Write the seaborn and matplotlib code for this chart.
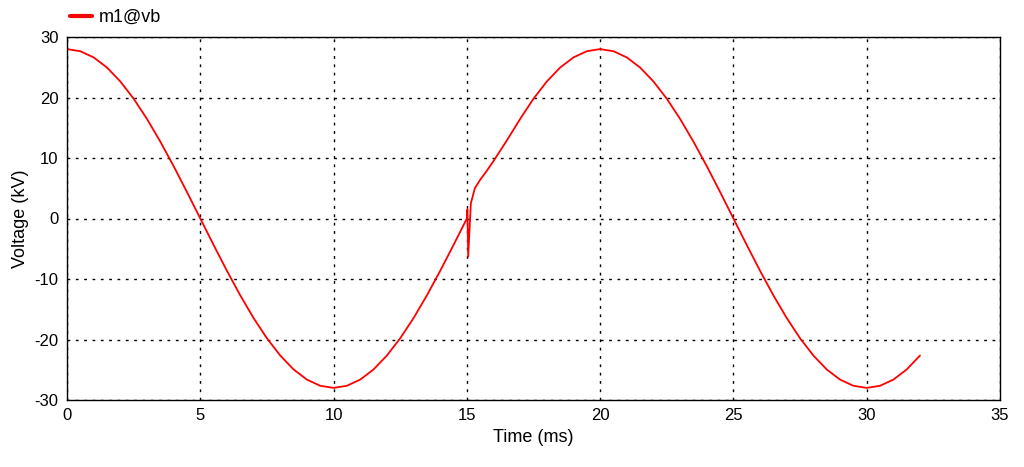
import matplotlib
matplotlib.use("Agg")
import matplotlib.pyplot as plt
import seaborn as sns
import pandas as pd

sns.set_style("white")
plt.rcParams['font.family'] = ['Liberation Sans', 'DejaVu Sans']
plt.rcParams['axes.unicode_minus'] = False
plt.rcParams['text.color'] = 'black'
plt.rcParams['axes.labelcolor'] = 'black'

time_ms = [0, 0.5, 1, 1.5, 2, 2.5, 3, 3.5, 4, 4.5, 5, 5.5, 6, 6.5, 7, 7.5, 8, 8.5, 9, 9.5,
           10, 10.5, 11, 11.5, 12, 12.5, 13, 13.5, 14, 14.5, 15, 15.02, 15.05, 15.15, 15.3, 15.5,
           15.75, 16, 16.5, 17, 17.5, 18, 18.5, 19, 19.5, 20, 20.5, 21, 21.5, 22, 22.5, 23, 23.5, 24, 24.5,
           25, 25.5, 26, 26.5, 27, 27.5, 28, 28.5, 29, 29.5, 30, 30.5, 31, 31.5, 32]
voltage_kv = [28, 27.65, 26.63, 24.95, 22.65, 19.8, 16.46, 12.71, 8.65, 4.38, 0,
              -4.38, -8.65, -12.71, -16.46, -19.8, -22.65, -24.95, -26.63, -27.65,
              -28, -27.65, -26.63, -24.95, -22.65, -19.8, -16.46, -12.71, -8.65, -4.38,
              0, 1.5, -6.3, 2.5, 5.0, 6.4,
              7.9, 9.5, 12.9, 16.46, 19.8, 22.65, 24.95, 26.63, 27.65,
              28, 27.65, 26.63, 24.95, 22.65, 19.8, 16.46, 12.71, 8.65, 4.38, 0,
              -4.38, -8.65, -12.71, -16.46, -19.8, -22.65, -24.95, -26.63, -27.65,
              -28, -27.65, -26.63, -24.95, -22.65]

df = pd.DataFrame({"t": time_ms, "v": voltage_kv})

fig = plt.figure(figsize=(10.24, 4.67), dpi=100)
ax = fig.add_axes([67/1024, 1-400/467, (1000-67)/1024, (400-37)/467])
sns.lineplot(data=df, x="t", y="v", ax=ax, color="red", lw=1.3, sort=False, label="m1@vb")
ax.set_xlim(0, 35)
ax.set_ylim(-30, 30)
ax.set_xticks(range(0, 36, 5))
ax.set_yticks(range(-30, 31, 10))
ax.grid(True, color="black", linestyle=(0, (2, 4)), lw=1)
for s in ax.spines.values():
    s.set_color("black"); s.set_linewidth(1)
ax.tick_params(labelsize=12, colors="black", length=0, pad=6)
ax.set_xlabel("Time (ms)", fontsize=13)
ax.set_ylabel("Voltage (kV)", fontsize=13)
leg = ax.legend(loc="lower left", bbox_to_anchor=(-0.008, 1.0), frameon=False, fontsize=13,
                handlelength=1.2, borderpad=0.1, handletextpad=0.4)
for h in leg.get_lines():
    h.set_linewidth(3)
fig.savefig("out.png", dpi=100)
